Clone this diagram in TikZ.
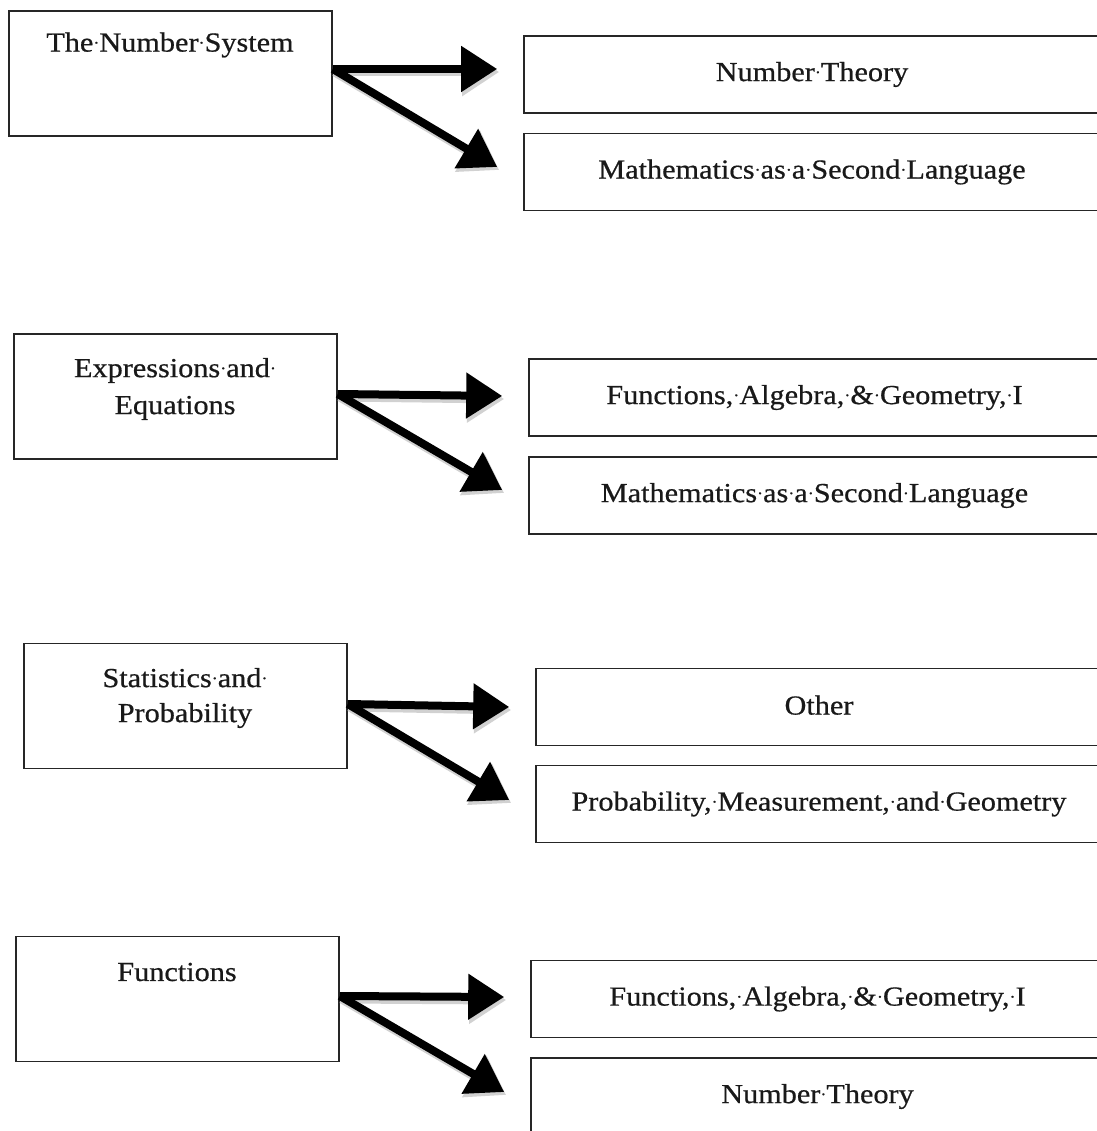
\documentclass[tikz,border=0pt]{standalone}
\usepackage{graphicx}
\usepackage{fontspec}
\setmainfont{Liberation Serif}[FakeStretch=1.1,FakeBold=0.6]
\newcommand{\md}{\makebox[0.22em]{\raisebox{0.12em}{\scalebox{0.6}{·}}}}
\usetikzlibrary{arrows.meta}
\begin{document}
\begin{tikzpicture}[x=1pt,y=-1pt,
  srcbox/.style={draw=black!85, line width=1.6pt, minimum width=323pt, minimum height=125pt, inner sep=0pt},
  tgtbox/.style={draw=black!85, line width=1.6pt, minimum width=576pt, minimum height=77pt, inner sep=0pt,
     font=\fontsize{27.5}{34}\selectfont, text=black!90},
  lbl/.style={align=center, font=\fontsize{27.5}{37}\selectfont, text=black!90, inner sep=0pt},
  arr/.style={line width=8pt, -{Triangle[length=36pt,width=44pt]}, black},
  arrsh/.style={line width=9pt, -{Triangle[length=37pt,width=46pt]}, black!18, transform canvas={xshift=2pt,yshift=-3pt}}
]
\useasboundingbox (0,0) rectangle (1096,1131);
% group 1
\node[srcbox] (s1) at (170.5,73.5) {};
\node[lbl] (l1) at (170,45) {The\md Number\md System};
\node[tgtbox] (t1) at (812,74.5) {\raisebox{4pt}{Number\md Theory}};
\node[tgtbox] (t2) at (812,172) {\raisebox{4pt}{Mathematics\md as\md a\md Second\md Language}};
% group 2
\node[srcbox] (s2) at (175.5,396.5) {};
\node[lbl] (l2) at (175,389) {Expressions\md and\md\\Equations};
\node[tgtbox] (t3) at (817,397.5) {\raisebox{4pt}{\hspace*{-5pt}Functions,\md Algebra,\md\&\md Geometry,\md I}};
\node[tgtbox] (t4) at (817,495.5) {\raisebox{4pt}{\hspace*{-5pt}Mathematics\md as\md a\md Second\md Language}};
% group 3
\node[srcbox] (s3) at (185.5,706) {};
\node[lbl, font=\fontsize{27.5}{35}\selectfont] (l3) at (185,698) {Statistics\md and\md\\Probability};
\node[tgtbox] (t5) at (824,707) {\raisebox{4pt}{\hspace*{-10pt}Other}};
\node[tgtbox] (t6) at (824,804) {\raisebox{4pt}{\hspace*{-10pt}Probability,\md Measurement,\md and\md Geometry}};
% group 4
\node[srcbox] (s4) at (177.5,999) {};
\node[lbl] (l4) at (177,972) {Functions};
\node[tgtbox] (t7) at (819,999) {\raisebox{4pt}{\hspace*{-3pt}Functions,\md Algebra,\md\&\md Geometry,\md I}};
\node[tgtbox] (t8) at (819,1096.5) {\raisebox{4pt}{\hspace*{-3pt}Number\md Theory}};
% arrows
\foreach \s/\sy/\a/\ay/\b/\by in {s1/4.5/t1/5.5/t2/5, s2/2.5/t3/1.5/t4/5.5, s3/2/t5/0/t6/4, s4/3/t7/2/t8/4.5}{
  \draw[arrsh] ([yshift=\sy pt]\s.east) -- ([xshift=-26pt,yshift=\ay pt]\a.west);
  \draw[arrsh] ([yshift=\sy pt]\s.east) -- ([xshift=-26pt,yshift=\by pt]\b.west);
  \draw[arr] ([yshift=\sy pt]\s.east) -- ([xshift=-26pt,yshift=\ay pt]\a.west);
  \draw[arr] ([yshift=\sy pt]\s.east) -- ([xshift=-26pt,yshift=\by pt]\b.west);
}
\end{tikzpicture}
\end{document}
